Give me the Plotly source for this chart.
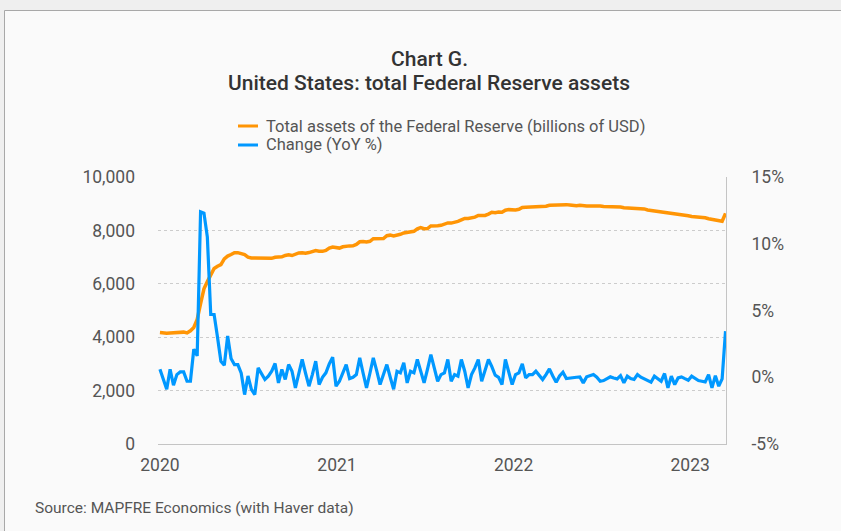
import pandas as pd
import plotly.graph_objects as go

# Weekly total assets of the Federal Reserve, billions of USD (Wednesday levels)
assets_2020 = [4173, 4145, 4148, 4158, 4171, 4169, 4176, 4190, 4159, 4241, 4362, 4667, 5254,
               5814, 6083, 6368, 6573, 6656, 6719, 6934, 7037, 7097, 7165, 7167, 7139, 7092,
               7001, 6966, 6969, 6963, 6959, 6964, 6942, 6955, 6996, 7013, 7009, 7063, 7084,
               7059, 7112, 7158, 7166, 7145, 7170, 7195, 7242, 7221, 7215, 7248, 7335, 7378, 7362]
assets_2021 = [7338, 7386, 7414, 7420, 7424, 7476, 7573, 7586, 7566, 7591, 7690, 7703, 7692,
               7697, 7803, 7822, 7796, 7811, 7853, 7904, 7924, 7937, 7965, 8060, 8103, 8065,
               8069, 8166, 8188, 8177, 8191, 8230, 8281, 8274, 8300, 8337, 8391, 8448, 8447,
               8461, 8497, 8557, 8556, 8561, 8611, 8681, 8664, 8689, 8677, 8757, 8778, 8757]
assets_2022 = [8766, 8789, 8859, 8868, 8874, 8868, 8902, 8912, 8914, 8906, 8943, 8950, 8934,
               8937, 8943, 8965, 8951, 8936, 8926, 8940, 8918, 8915, 8916, 8913, 8935, 8913,
               8893, 8896, 8874, 8894, 8890, 8877, 8847, 8842, 8826, 8822, 8818, 8798, 8804,
               8765, 8749, 8736, 8709, 8699, 8687, 8658, 8636, 8614, 8605, 8597, 8578, 8551]
assets_2023 = [8520, 8512, 8503, 8469, 8471, 8438, 8420, 8384, 8389, 8342, 8639]

# Change, %
change_2020 = [0.6, -0.2, -0.9, 0.6, -0.6, 0.2, 0.4, 0.4, -0.3, -0.3, 2.1, 1.6,
               12.4, 12.3, 10.5, 4.7, 4.7, 3.0, 1.2, 0.9, 3.1, 1.4, 0.95, 0.95, 0.3, -1.3,
               0.1, -0.9, -1.3, 0.7, 0.2, -0.17, 0.08, 0.45, 1.03, -0.42, 0.58, -0.17, 0.95,
               0.45, -0.8, 0.3, 1.33, 0.3, -0.67, 0.2, 1.2, -0.55, 0.0, 0.33, 1.0, 1.5, -0.67]
change_2021 = [-0.3, 0.4, 0.95, -0.1, 0.0, 0.2, 1.45, 0.3, -0.8, 0.3, 1.45, 0.5, -0.55,
               0.2, 0.95, 0.0, -0.9, 0.45, 0.33, 1.08, -0.42, 0.45, 0.33, 1.33, 0.5, -0.42,
               0.6, 1.7, 0.7, -0.3, 0.2, 0.33, 1.33, -0.3, 0.2, 0.08, 1.33, 0.45, -0.8,
               0.2, 0.7, 1.33, -0.3, 0.6, 1.33, 0.8, 0.15, 0.0, -0.55, 1.33, 0.4, -0.55]
change_2022 = [0.2, 0.33, 1.0, -0.05, 0.2, 0.2, 0.45, 0.1, -0.17, 0.2, 0.63, 0.1, -0.37,
               0.1, 0.38, -0.1, -0.05, -0.05, 0.0, 0.03, -0.42, 0.03, 0.1, 0.2, 0.0, -0.3,
               -0.25, -0.1, 0.03, -0.05, -0.12, 0.12, -0.42, 0.08, -0.1, -0.17, 0.2, 0.0,
               -0.12, -0.2, -0.37, 0.08, -0.12, -0.3, 0.28, -0.8, 0.08, -0.55, -0.05, 0.03,
               -0.1, -0.22]
change_2023 = [0.08, -0.12, -0.25, -0.3, -0.35, 0.2, -0.8, 0.12, -0.67, -0.12, 3.45]

assets = assets_2020 + assets_2021 + assets_2022 + assets_2023
change = change_2020 + change_2021 + change_2022 + change_2023
dates = pd.date_range("2020-01-01", periods=len(assets), freq="7D")

year_labels = ["2020", "2021", "2022", "2023"]
left_ticks = [0, 2000, 4000, 6000, 8000, 10000]
right_ticks = [-5, 0, 5, 10, 15]
right_tick_text = ["-5%", "0%", "5%", "10%", "15%"]

ORANGE = "#ff9505"
BLUE = "#0098ff"
TEXT = "#555555"
FONT = "Roboto"

W, H = 841, 531
L, R, T, B = 158, 726, 177, 444


def px_x(x):
    return (x - L) / (R - L)


def px_y(y):
    return (B - y) / (B - T)


fig = go.Figure()
fig.add_trace(go.Scatter(
    x=dates, y=assets, name="Total assets of the Federal Reserve (billions of USD)",
    mode="lines", line=dict(color=ORANGE, width=3.5), yaxis="y"))
fig.add_trace(go.Scatter(
    x=dates, y=change, name="Change (YoY %)",
    mode="lines", line=dict(color=BLUE, width=3.2), yaxis="y2"))

shapes = [
    # panel with thin frame
    dict(type="rect", xref="paper", yref="paper", layer="below",
         x0=px_x(4.5), x1=px_x(900), y0=px_y(600), y1=px_y(10.5),
         fillcolor="#fafafa", line=dict(color="#a8a8a8", width=1)),
    # legend keys
    dict(type="line", xref="paper", yref="paper",
         x0=px_x(238), x1=px_x(258), y0=px_y(126), y1=px_y(126),
         line=dict(color=ORANGE, width=3)),
    dict(type="line", xref="paper", yref="paper",
         x0=px_x(238), x1=px_x(258), y0=px_y(145), y1=px_y(145),
         line=dict(color=BLUE, width=3)),
]

annotations = [
    dict(text="Chart G.", x=px_x(429), y=px_y(59), xref="paper", yref="paper",
         showarrow=False, xanchor="center", yanchor="middle",
         font=dict(family=FONT, size=21, color="#333333", weight=500)),
    dict(text="United States: total Federal Reserve assets", x=px_x(429), y=px_y(83),
         xref="paper", yref="paper", showarrow=False, xanchor="center", yanchor="middle",
         font=dict(family=FONT, size=21, color="#333333", weight=500)),
    dict(text="Total assets of the Federal Reserve (billions of USD)", x=px_x(264),
         y=px_y(126), xref="paper", yref="paper", showarrow=False, xanchor="left",
         yanchor="middle", font=dict(family=FONT, size=16.5, color=TEXT)),
    dict(text="Change (YoY %)", x=px_x(264), y=px_y(145), xref="paper", yref="paper",
         showarrow=False, xanchor="left", yanchor="middle",
         font=dict(family=FONT, size=16.5, color=TEXT)),
    dict(text="Source: MAPFRE Economics (with Haver data)", x=px_x(33), y=px_y(508),
         xref="paper", yref="paper", showarrow=False, xanchor="left", yanchor="middle",
         font=dict(family=FONT, size=15.5, color=TEXT)),
]

fig.update_layout(
    width=W, height=H, autosize=False,
    margin=dict(l=L, r=W - R, t=T, b=H - B, pad=0),
    paper_bgcolor="#efefef",
    plot_bgcolor="rgba(0,0,0,0)",
    showlegend=False,
    font=dict(family=FONT, color=TEXT, size=17.5),
    shapes=shapes,
    annotations=annotations,
    xaxis=dict(
        type="date", range=["2019-12-28", "2023-03-16"],
        tickvals=[f"{y}-01-01" for y in year_labels], ticktext=year_labels,
        showgrid=False, zeroline=False, showline=True, linecolor="#c4c4c4", linewidth=1,
        ticks="", tickfont=dict(size=17.5, color=TEXT), ticklabelstandoff=5),
    yaxis=dict(
        range=[0, 10000], tickvals=left_ticks, tickformat=",",
        showgrid=True, gridcolor="#cccccc", griddash="dot", gridwidth=1,
        zeroline=False, showline=False, ticks="",
        tickfont=dict(size=17.5, color=TEXT), ticklabelstandoff=22),
    yaxis2=dict(
        overlaying="y", side="right", range=[-5, 15],
        tickvals=right_ticks, ticktext=right_tick_text,
        showgrid=False, zeroline=False, showline=True, linecolor="#c4c4c4", linewidth=1,
        ticks="", tickfont=dict(size=17.5, color=TEXT), ticklabelstandoff=21),
)

fig.write_html("out.html")
